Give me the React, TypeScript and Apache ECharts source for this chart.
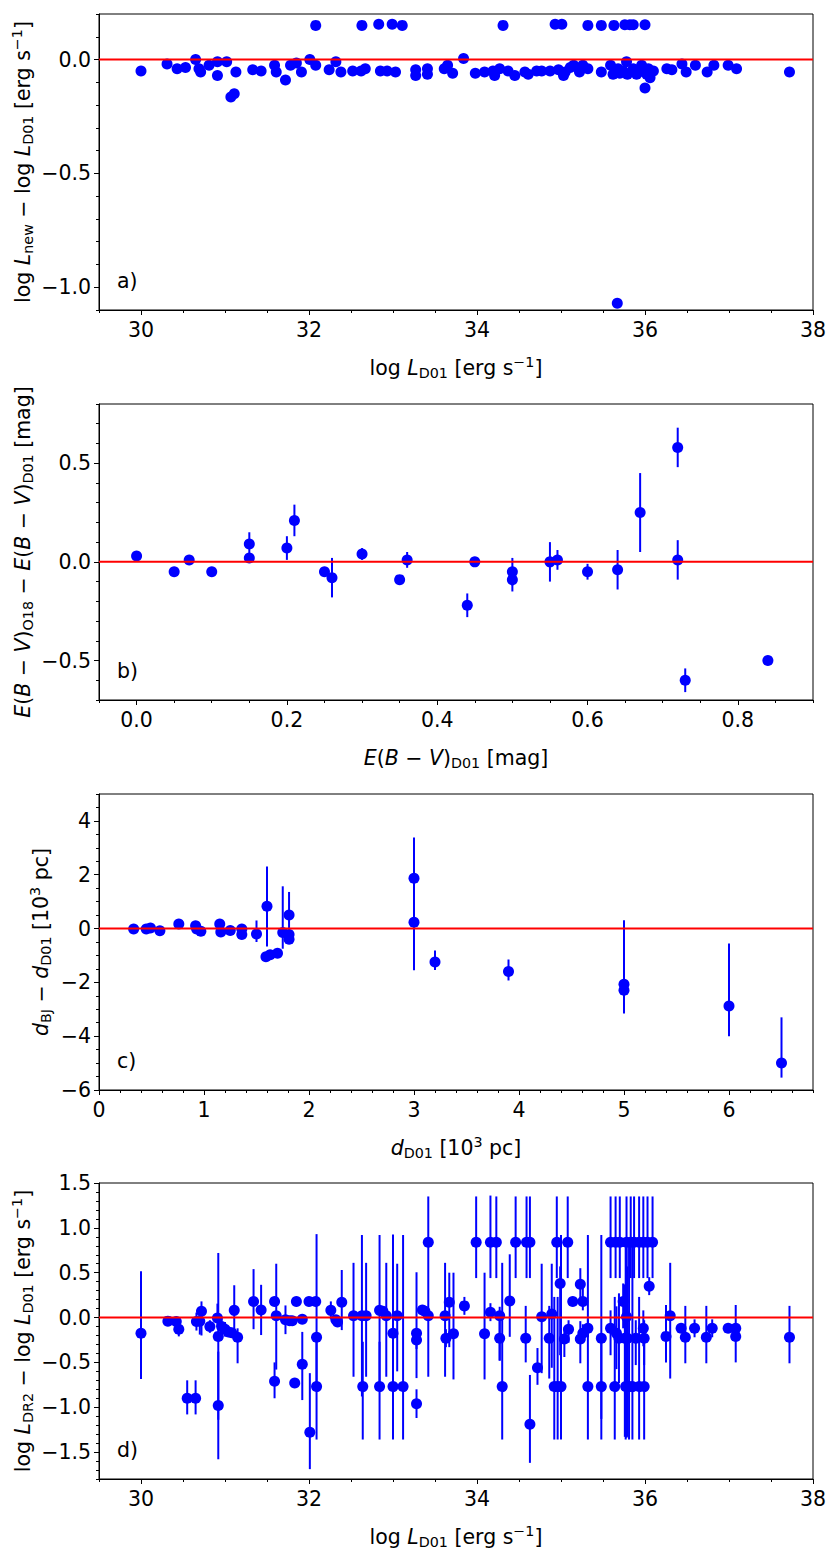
import React, { useEffect, useRef } from 'react';
import * as echarts from 'echarts';

// ---------- Panel a: log L_new - log L_D01 vs log L_D01 ----------
const A_X = [30.00, 30.31, 30.43, 30.53, 30.65, 30.69, 30.71, 30.81, 30.91, 30.91, 31.02, 31.07, 31.11, 31.13, 31.33, 31.43, 31.59, 31.61, 31.72, 31.78, 31.85, 31.91, 32.01, 32.08, 32.08, 32.24, 32.32, 32.38, 32.52, 32.62, 32.63, 32.67, 32.83, 32.85, 32.93, 32.99, 33.03, 33.11, 33.27, 33.27, 33.41, 33.41, 33.61, 33.65, 33.71, 33.84, 33.98, 34.09, 34.19, 34.21, 34.27, 34.31, 34.37, 34.45, 34.57, 34.61, 34.71, 34.77, 34.87, 34.93, 34.97, 35.01, 35.03, 35.05, 35.11, 35.15, 35.22, 35.26, 35.32, 35.32, 35.48, 35.48, 35.59, 35.63, 35.62, 35.67, 35.68, 35.70, 35.74, 35.76, 35.78, 35.79, 35.82, 35.86, 35.86, 35.90, 35.92, 35.95, 35.96, 36.00, 36.00, 36.02, 36.04, 36.06, 36.10, 36.26, 36.32, 36.44, 36.49, 36.60, 36.74, 36.82, 36.99, 37.09, 37.72];
const A_Y = [-0.05, -0.02, -0.04, -0.035, 0.0, -0.04, -0.055, -0.025, -0.01, -0.07, -0.01, -0.165, -0.15, -0.055, -0.045, -0.05, -0.025, -0.055, -0.09, -0.025, -0.015, -0.055, 0.0, 0.15, -0.025, -0.045, -0.01, -0.055, -0.05, -0.05, 0.15, -0.04, 0.155, -0.05, -0.05, 0.155, -0.055, 0.15, -0.045, -0.07, -0.04, -0.065, -0.04, -0.025, -0.06, 0.005, -0.06, -0.055, -0.05, -0.07, -0.04, 0.15, -0.05, -0.07, -0.055, -0.065, -0.05, -0.05, -0.05, 0.155, -0.045, 0.155, -0.07, -0.055, -0.035, -0.025, -0.055, -0.025, 0.15, -0.04, 0.15, -0.055, -0.025, 0.15, -0.065, -1.07, -0.04, -0.06, -0.05, 0.153, -0.01, -0.065, 0.153, 0.153, -0.04, -0.065, -0.055, -0.05, -0.025, 0.153, -0.125, -0.065, -0.04, -0.08, -0.05, -0.04, -0.045, -0.02, -0.055, -0.025, -0.055, -0.025, -0.025, -0.04, -0.055];

// ---------- Panel b: E(B-V) differences ----------
const B_X = [0.00, 0.05, 0.07, 0.10, 0.15, 0.15, 0.20, 0.21, 0.25, 0.26, 0.30, 0.35, 0.36, 0.44, 0.45, 0.50, 0.50, 0.55, 0.56, 0.60, 0.64, 0.67, 0.72, 0.72, 0.73, 0.84];
const B_Y = [0.03, -0.05, 0.01, -0.05, 0.09, 0.02, 0.07, 0.21, -0.05, -0.08, 0.04, -0.09, 0.01, -0.22, 0.00, -0.05, -0.09, 0.00, 0.01, -0.05, -0.04, 0.25, 0.58, 0.01, -0.60, -0.50];
const B_ERR = [0, 0, 0, 0, 0.06, 0.02, 0.06, 0.08, 0, 0.10, 0.03, 0, 0.04, 0.06, 0, 0.07, 0.06, 0.10, 0.05, 0.04, 0.10, 0.20, 0.10, 0.10, 0.06, 0];

// ---------- Panel c: distance differences ----------
const C_X = [0.33, 0.45, 0.49, 0.58, 0.76, 0.92, 0.93, 0.97, 1.15, 1.16, 1.25, 1.36, 1.36, 1.50, 1.60, 1.59, 1.63, 1.70, 1.75, 1.81, 1.81, 1.81, 3.00, 3.00, 3.20, 3.90, 5.00, 5.00, 6.00, 6.50];
const C_Y = [-0.02, -0.02, 0.02, -0.08, 0.17, 0.10, -0.02, -0.10, 0.17, -0.13, -0.07, -0.02, -0.22, -0.20, 0.83, -1.05, -0.97, -0.92, -0.15, 0.50, -0.22, -0.40, 1.87, 0.23, -1.24, -1.60, -2.07, -2.29, -2.88, -5.00];
const C_ERR_LO = [0, 0, 0, 0, 0, 0, 0, 0, 0, 0, 0, 0, 0, 0.30, 1.50, 0, 0, 0, 0.60, 0.70, 0, 0, 1.00, 1.78, 0.30, 0.33, 0.80, 0.87, 1.12, 0.54];
const C_ERR_HI = [0, 0, 0, 0, 0, 0, 0, 0, 0, 0, 0, 0, 0, 0.50, 1.48, 0, 0, 0, 1.72, 0.86, 0, 0, 1.51, 0.90, 0.42, 0.45, 2.38, 0.50, 2.32, 1.70];

// ---------- Panel d: log L_DR2 - log L_D01 vs log L_D01 ----------
const D_X = [30.00, 30.32, 30.42, 30.45, 30.55, 30.65, 30.66, 30.70, 30.72, 30.82, 30.91, 30.92, 30.92, 30.96, 31.00, 31.04, 31.08, 31.11, 31.15, 31.34, 31.43, 31.59, 31.59, 31.61, 31.72, 31.77, 31.80, 31.83, 31.85, 31.92, 31.92, 32.00, 32.01, 32.08, 32.09, 32.09, 32.26, 32.32, 32.34, 32.39, 32.53, 32.63, 32.64, 32.68, 32.84, 32.84, 32.88, 32.92, 33.00, 33.00, 33.05, 33.12, 33.28, 33.28, 33.28, 33.35, 33.38, 33.42, 33.42, 33.62, 33.63, 33.67, 33.72, 33.85, 33.99, 34.09, 34.16, 34.16, 34.23, 34.27, 34.27, 34.30, 34.39, 34.46, 34.58, 34.59, 34.63, 34.63, 34.72, 34.77, 34.86, 34.89, 34.92, 34.95, 34.96, 34.99, 35.00, 35.04, 35.08, 35.09, 35.14, 35.23, 35.23, 35.26, 35.26, 35.32, 35.32, 35.48, 35.48, 35.59, 35.59, 35.64, 35.65, 35.66, 35.69, 35.70, 35.74, 35.76, 35.77, 35.78, 35.78, 35.79, 35.81, 35.83, 35.85, 35.87, 35.89, 35.93, 35.93, 35.98, 35.98, 35.99, 35.99, 36.03, 36.05, 36.09, 36.25, 36.30, 36.43, 36.48, 36.59, 36.73, 36.80, 36.99, 37.08, 37.08, 37.72];
const D_Y = [-0.175, -0.04, -0.045, -0.13, -0.90, -0.90, -0.045, -0.04, 0.07, -0.10, -0.005, -0.21, -0.98, -0.10, -0.13, -0.16, -0.17, 0.08, -0.22, 0.18, 0.085, 0.18, -0.71, 0.02, -0.025, -0.035, -0.035, -0.73, 0.18, -0.02, -0.52, 0.18, -1.28, 0.18, -0.22, -0.77, 0.08, -0.025, -0.05, 0.17, 0.02, 0.02, -0.77, 0.02, 0.08, -0.77, 0.07, 0.02, -0.175, -0.77, 0.02, -0.77, -0.175, -0.25, -0.96, 0.085, 0.07, 0.84, 0.02, 0.02, -0.23, 0.17, -0.18, 0.13, 0.84, -0.18, 0.06, 0.84, 0.84, -0.23, 0.02, -0.77, 0.185, 0.84, -0.23, 0.84, 0.84, -1.19, -0.56, 0.01, -0.23, 0.04, -0.77, 0.84, -0.77, 0.38, -0.77, -0.24, 0.84, -0.13, 0.18, 0.37, -0.24, 0.18, -0.175, -0.12, -0.77, -0.23, -0.77, 0.84, -0.12, -0.77, 0.84, -0.175, -0.23, 0.84, 0.18, -0.23, -0.77, 0.84, 0.01, -0.23, -0.77, 0.84, -0.77, 0.84, -0.23, -0.77, 0.84, 0.84, -0.12, -0.23, -0.77, 0.84, 0.35, 0.84, -0.21, 0.02, -0.12, -0.22, -0.12, -0.22, -0.12, -0.12, -0.12, -0.21, -0.22];
const D_ERR_LO = [0.51, 0.03, 0.04, 0.08, 0.18, 0.18, 0.10, 0.15, 0.27, 0.07, 0.10, 0.93, 0.60, 0.08, 0.08, 0.05, 0.05, 0.28, 0.29, 0.31, 0.28, 0.03, 0.19, 0.60, 0.16, 0.03, 0.03, 0.03, 0.03, 0.05, 0.40, 0.03, 0.41, 0.03, 0.50, 0.59, 0.10, 0.03, 0.03, 0.31, 0.68, 0.90, 0.59, 0.68, 0.85, 0.59, 0.05, 0.68, 0.50, 0.59, 0.62, 0.59, 0.50, 0.10, 0.16, 0.05, 0.05, 1.50, 0.05, 0.68, 0.10, 0.50, 0.51, 0.10, 0.40, 0.51, 0.10, 0.40, 0.40, 0.25, 0.50, 0.59, 0.40, 0.40, 0.27, 0.40, 0.40, 0.43, 0.19, 0.63, 0.45, 0.60, 0.59, 0.40, 0.59, 0.80, 0.59, 0.20, 0.40, 0.15, 0.05, 0.20, 0.27, 0.10, 0.10, 0.10, 0.59, 0.90, 0.59, 0.40, 0.30, 0.59, 0.40, 0.40, 0.50, 0.40, 0.30, 1.10, 0.59, 0.40, 1.35, 1.10, 0.59, 0.40, 0.59, 0.40, 0.30, 0.59, 0.40, 0.40, 0.20, 0.30, 0.59, 0.40, 0.10, 0.40, 0.29, 0.70, 0.05, 0.29, 0.10, 0.29, 0.10, 0.05, 0.05, 0.29, 0.29];
const D_ERR_HI = [0.69, 0.03, 0.04, 0.08, 0.20, 0.20, 0.10, 0.10, 0.11, 0.07, 0.16, 0.93, 0.60, 0.08, 0.08, 0.05, 0.05, 0.28, 0.10, 0.36, 0.28, 0.03, 0.21, 0.58, 0.16, 0.03, 0.03, 0.03, 0.03, 0.05, 0.36, 0.03, 0.66, 0.03, 1.15, 0.50, 0.10, 0.03, 0.03, 0.36, 0.59, 0.90, 0.50, 0.59, 0.84, 0.50, 0.05, 0.59, 1.10, 0.50, 0.58, 1.69, 0.68, 0.10, 0.16, 0.05, 0.05, 0.51, 0.05, 0.59, 0.10, 0.33, 0.68, 0.10, 0.51, 0.68, 0.10, 0.52, 0.51, 0.20, 0.10, 1.38, 0.52, 0.51, 0.36, 0.51, 0.51, 0.55, 0.22, 0.59, 0.36, 0.56, 1.00, 0.51, 1.00, 0.19, 1.69, 0.13, 0.51, 0.10, 0.05, 0.18, 0.20, 0.18, 0.10, 0.10, 1.69, 1.15, 0.50, 0.51, 0.20, 1.00, 0.51, 0.30, 0.50, 0.51, 0.20, 0.60, 1.60, 0.51, 0.80, 0.80, 1.60, 0.51, 1.60, 0.51, 0.20, 1.00, 0.51, 0.51, 0.20, 0.20, 0.50, 0.51, 0.10, 0.51, 0.35, 0.59, 0.05, 0.35, 0.10, 0.35, 0.10, 0.05, 0.05, 0.35, 0.35];

// ---------- Axis ticks ----------
const A_X_TICKS = [30, 32, 34, 36, 38];
const A_Y_TICKS = [-1.0, -0.5, 0.0];
const B_X_TICKS = [0.0, 0.2, 0.4, 0.6, 0.8];
const B_Y_TICKS = [-0.5, 0.0, 0.5];
const C_X_TICKS = [0, 1, 2, 3, 4, 5, 6];
const C_Y_TICKS = [-6, -4, -2, 0, 2, 4];
const D_X_TICKS = [30, 32, 34, 36, 38];
const D_Y_TICKS = [-1.5, -1.0, -0.5, 0.0, 0.5, 1.0, 1.5];
const PANEL_LABELS = ['a)', 'b)', 'c)', 'd)'];

const FONT = 'DejaVu Sans';
const BLUE = '#0000ff';
const RED = '#ff0000';
const FS = 20.5;
const TICK_FS = 20.5;
const SUB_FS = 14.3;

const rich: any = {
  n: { fontFamily: FONT, fontSize: FS, lineHeight: 25, verticalAlign: 'middle', color: '#000' },
  i: { fontFamily: FONT, fontSize: FS, lineHeight: 25, verticalAlign: 'middle', fontStyle: 'italic', color: '#000' },
  s: { fontFamily: FONT, fontSize: SUB_FS, lineHeight: 12, verticalAlign: 'bottom', color: '#000' },
  p: { fontFamily: FONT, fontSize: SUB_FS, lineHeight: 13, verticalAlign: 'top', color: '#000' },
};

// label only the major tick values on the minor-tick axis
const fmt = (d: number, majors: number[]) => (v: number) =>
  majors.some((m) => Math.abs(m - v) < 1e-6) ? (v < 0 ? '\u2212' : '') + Math.abs(v).toFixed(d) : '';

type Panel = {
  xMin: number; xMax: number; xTicks: number[]; xMinor: number; xDec: number;
  yMin: number; yMax: number; yTicks: number[]; yMinor: number; yDec: number;
  xName: string; yName: string; yGap: number;
  xs: number[]; ys: number[]; lo?: number[]; hi?: number[];
};

const LOGL_X = '{n|log }{i|L}{s|D01}{n| [erg s}{p|\u22121}{n|]}';

const PANELS: Panel[] = [
  {
    xMin: 29.5, xMax: 38, xTicks: A_X_TICKS, xMinor: 0.5, xDec: 0,
    yMin: -1.1, yMax: 0.2, yTicks: A_Y_TICKS, yMinor: 0.1, yDec: 1,
    xName: LOGL_X,
    yName: '{n|log }{i|L}{s|new}{n| \u2212 log }{i|L}{s|D01}{n| [erg s}{p|\u22121}{n|]}',
    yGap: 64, xs: A_X, ys: A_Y,
  },
  {
    xMin: -0.05, xMax: 0.9, xTicks: B_X_TICKS, xMinor: 0.05, xDec: 1,
    yMin: -0.7, yMax: 0.8, yTicks: B_Y_TICKS, yMinor: 0.1, yDec: 1,
    xName: '{i|E}{n|(}{i|B}{n| \u2212 }{i|V}{n|)}{s|D01}{n| [mag]}',
    yName: '{i|E}{n|(}{i|B}{n| \u2212 }{i|V}{n|)}{s|O18}{n| \u2212 }{i|E}{n|(}{i|B}{n| \u2212 }{i|V}{n|)}{s|D01}{n| [mag]}',
    yGap: 64, xs: B_X, ys: B_Y, lo: B_ERR, hi: B_ERR,
  },
  {
    xMin: 0, xMax: 6.8, xTicks: C_X_TICKS, xMinor: 0.2, xDec: 0,
    yMin: -6, yMax: 5, yTicks: C_Y_TICKS, yMinor: 0.5, yDec: 0,
    xName: '{i|d}{s|D01}{n| [10}{p|3}{n| pc]}',
    yName: '{i|d}{s|BJ}{n| \u2212 }{i|d}{s|D01}{n| [10}{p|3}{n| pc]}',
    yGap: 46, xs: C_X, ys: C_Y, lo: C_ERR_LO, hi: C_ERR_HI,
  },
  {
    xMin: 29.5, xMax: 38, xTicks: D_X_TICKS, xMinor: 0.5, xDec: 0,
    yMin: -1.8, yMax: 1.5, yTicks: D_Y_TICKS, yMinor: 0.1, yDec: 1,
    xName: LOGL_X,
    yName: '{n|log }{i|L}{s|DR2}{n| \u2212 log }{i|L}{s|D01}{n| [erg s}{p|\u22121}{n|]}',
    yGap: 64, xs: D_X, ys: D_Y, lo: D_ERR_LO, hi: D_ERR_HI,
  },
];

const GRID_TOPS = [14, 404, 794, 1183];
const GRID_LEFT = 99;
const GRID_W = 714;
const GRID_H = 296;

function buildOption() {
  const grid: any[] = [];
  const xAxis: any[] = [];
  const yAxis: any[] = [];
  const series: any[] = [];
  const graphic: any[] = [];
  const tickLine = { color: '#000', width: 1 };
  const labelStyle = { fontSize: TICK_FS, fontFamily: FONT, color: '#000' };

  PANELS.forEach((p, g) => {
    grid.push({
      left: GRID_LEFT, top: GRID_TOPS[g], width: GRID_W, height: GRID_H,
      show: true, borderColor: '#000', borderWidth: 1, backgroundColor: 'transparent',
    });
    const xi = xAxis.length;
    xAxis.push({
      type: 'value', gridIndex: g, position: 'bottom', min: p.xMin, max: p.xMax,
      axisLine: { show: true, onZero: false, lineStyle: tickLine },
      axisTick: { show: true, customValues: p.xTicks, length: 5, lineStyle: tickLine },
      axisLabel: { show: false },
      splitLine: { show: false },
      name: p.xName, nameLocation: 'middle', nameGap: 45,
      nameTextStyle: { rich, fontFamily: FONT, fontSize: FS, color: '#000' },
    });
    xAxis.push({
      type: 'value', gridIndex: g, position: 'bottom', min: p.xMin, max: p.xMax, interval: p.xMinor,
      axisLine: { show: false, onZero: false },
      axisTick: { show: true, length: 3, lineStyle: tickLine },
      axisLabel: { show: true, interval: 0, formatter: fmt(p.xDec, p.xTicks), margin: 9, ...labelStyle },
      splitLine: { show: false },
    });
    const yi = yAxis.length;
    yAxis.push({
      type: 'value', gridIndex: g, position: 'left', min: p.yMin, max: p.yMax,
      axisLine: { show: true, onZero: false, lineStyle: tickLine },
      axisTick: { show: true, customValues: p.yTicks, length: 5, lineStyle: tickLine },
      axisLabel: { show: false },
      splitLine: { show: false },
      name: p.yName, nameLocation: 'middle', nameRotate: 90, nameGap: p.yGap,
      nameTextStyle: { rich, fontFamily: FONT, fontSize: FS, color: '#000' },
    });
    yAxis.push({
      type: 'value', gridIndex: g, position: 'left', min: p.yMin, max: p.yMax, interval: p.yMinor,
      axisLine: { show: false, onZero: false },
      axisTick: { show: true, length: 3, lineStyle: tickLine },
      axisLabel: { show: true, interval: 0, formatter: fmt(p.yDec, p.yTicks), margin: 8, ...labelStyle },
      splitLine: { show: false },
    });

    if (p.lo && p.hi) {
      const lo = p.lo, hi = p.hi;
      series.push({
        type: 'custom', xAxisIndex: xi, yAxisIndex: yi, silent: true, clip: true, z: 2,
        data: p.xs.map((x, i) => [x, p.ys[i], lo[i], hi[i]]),
        encode: { x: 0, y: 1 },
        renderItem: (params: any, api: any) => {
          const x = api.value(0), y = api.value(1), l = api.value(2), h = api.value(3);
          if (!(l > 0 || h > 0)) return null;
          const a = api.coord([x, y - l]);
          const b = api.coord([x, y + h]);
          return {
            type: 'line',
            shape: { x1: a[0], y1: a[1], x2: b[0], y2: b[1] },
            style: { stroke: BLUE, lineWidth: 2 },
          };
        },
      });
    }
    series.push({
      type: 'scatter', xAxisIndex: xi, yAxisIndex: yi, silent: true, z: 3,
      symbol: 'circle', symbolSize: 11,
      itemStyle: { color: BLUE, opacity: 1 },
      data: p.xs.map((x, i) => [x, p.ys[i]]),
    });
    series.push({
      type: 'line', xAxisIndex: xi, yAxisIndex: yi, silent: true, z: 4,
      symbol: 'none', lineStyle: { color: RED, width: 2 },
      data: [[p.xMin, 0], [p.xMax, 0]],
    });
    graphic.push({
      type: 'text', left: 117, top: GRID_TOPS[g] + GRID_H - 40, silent: true,
      style: { text: PANEL_LABELS[g], font: `${FS}px "${FONT}"`, fill: '#000' },
    });
  });

  return {
    animation: false,
    textStyle: { fontFamily: FONT, fontSize: FS, color: '#000' },
    grid, xAxis, yAxis, series, graphic,
  };
}

export default function App() {
  const ref = useRef<HTMLDivElement>(null);
  useEffect(() => {
    if (!ref.current) return;
    const chart = echarts.init(ref.current, null, { renderer: 'svg' });
    chart.setOption(buildOption() as any);
    return () => chart.dispose();
  }, []);
  return (
    <div
      ref={ref}
      style={{ position: 'absolute', left: 0, top: 0, width: 830, height: 1557, background: '#fff' }}
    />
  );
}
